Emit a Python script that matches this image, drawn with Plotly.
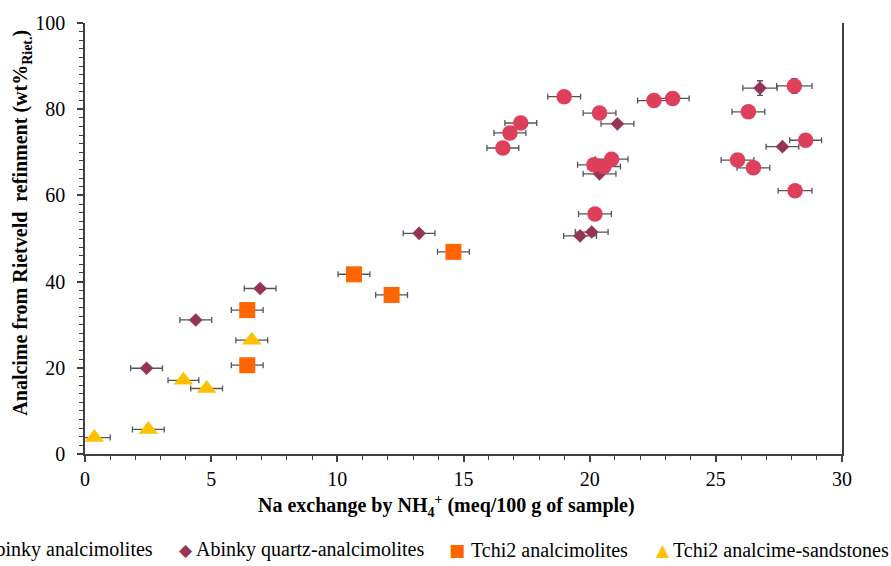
import plotly.graph_objects as go

# ---- data ----
circ_x = [16.56, 16.84, 17.27, 18.99, 20.39, 22.55, 23.29, 26.29, 28.11, 28.56, 25.86, 26.49, 28.14, 20.87, 20.17, 20.57, 20.21]
circ_y = [71.0, 74.5, 76.8, 82.9, 79.1, 82.0, 82.5, 79.4, 85.4, 72.8, 68.2, 66.4, 61.1, 68.4, 67.1, 66.7, 55.7]
circ_ex = [0.63, 0.63, 0.63, 0.65, 0.65, 0.65, 0.65, 0.65, 0.7, 0.63, 0.65, 0.65, 0.67, 0.65, 0.65, 0.65, 0.65]
circ_ey = [0, 0, 0, 0, 0, 0, 0, 0, 1.7, 0, 0, 0, 0, 0, 0, 0, 0]

dia_x = [2.44, 4.39, 6.94, 13.24, 19.62, 20.08, 20.39, 21.1, 26.75, 27.64]
dia_y = [19.9, 31.1, 38.4, 51.2, 50.6, 51.5, 65.0, 76.6, 84.9, 71.3]
dia_ex = [0.63, 0.63, 0.63, 0.63, 0.65, 0.65, 0.65, 0.65, 0.68, 0.65]
dia_ey = [0, 0, 0, 0, 0, 0, 0, 0, 1.7, 0]

sq_x = [6.43, 6.43, 10.66, 12.15, 14.6]
sq_y = [20.6, 33.4, 41.7, 36.9, 46.9]
sq_ex = [0.63, 0.63, 0.63, 0.63, 0.63]

tri_x = [0.37, 2.51, 3.9, 4.82, 6.61]
tri_y = [3.8, 5.7, 17.1, 15.2, 26.4]
tri_ex = [0.63, 0.63, 0.61, 0.63, 0.63]

series_names = ["Abinky analcimolites", "Abinky quartz-analcimolites",
                "Tchi2 analcimolites", "Tchi2 analcime-sandstones"]
colors = ["#DE3F5B", "#953553", "#FF6600", "#FFC000"]

x_title = "<b>Na exchange by NH<sub>4</sub><sup>+</sup> (meq/100 g of sample)</b>"
y_title = "<b>Analcime from Rietveld \u00a0refinment (wt%<sub>Riet.</sub>)</b>"

FONT = "Liberation Serif, Times New Roman, Times, serif"
ERRC = "#555555"

fig = go.Figure()

def err(arr):
    return dict(type="data", array=arr, color=ERRC, thickness=1.3, width=3, visible=True)

fig.add_trace(go.Scatter(x=dia_x, y=dia_y, mode="markers", name=series_names[1],
                         marker=dict(symbol="diamond", size=10.5, color=colors[1]),
                         error_x=err(dia_ex), error_y=err(dia_ey), showlegend=False))
fig.add_trace(go.Scatter(x=circ_x, y=circ_y, mode="markers", name=series_names[0],
                         marker=dict(symbol="circle", size=15.5, color=colors[0]),
                         error_x=err(circ_ex), error_y=err(circ_ey), showlegend=False))
fig.add_trace(go.Scatter(x=sq_x, y=sq_y, mode="markers", name=series_names[2],
                         marker=dict(symbol="square", size=16, color=colors[2]),
                         error_x=err(sq_ex), showlegend=False))
fig.add_trace(go.Scatter(x=tri_x, y=tri_y, mode="markers", name=series_names[3],
                         marker=dict(symbol="triangle-up", size=17, color=colors[3]),
                         error_x=err(tri_ex), showlegend=False))

L, R, T, B = 85, 49, 18, 112
W, H = 891, 566
PW, PH = W - L - R, H - T - B

def px(xp):
    return (xp - L) / PW

def py(yp):
    return (H - B - yp) / PH

annotations = []
# axis titles
annotations.append(dict(text=x_title, x=px(446), y=py(490), xref="paper", yref="paper",
                        showarrow=False, xanchor="center", yanchor="top",
                        font=dict(family=FONT, size=20, color="#000000")))
annotations.append(dict(text=y_title, x=px(22), y=py(220), xref="paper", yref="paper",
                        showarrow=False, xanchor="center", yanchor="middle", textangle=-90,
                        font=dict(family=FONT, size=20, color="#000000")))

# legend (manual, partially off-canvas like the reference)
leg_y = py(551)
sym = ["\u25CF", "\u25C6", "\u25A0", "\u25B2"]
sym_x = [-30, 186, 457, 663]
sym_sz = [18, 17, 17, 17]
for i in range(4):
    annotations.append(dict(text=sym[i], x=px(sym_x[i]), y=leg_y, xref="paper", yref="paper",
                            showarrow=False, xanchor="center", yanchor="middle",
                            font=dict(family="DejaVu Sans", size=sym_sz[i], color=colors[i])))
annotations.append(dict(text=series_names[0], x=px(155), y=leg_y, xref="paper", yref="paper",
                        showarrow=False, xanchor="right", yanchor="middle",
                        font=dict(family=FONT, size=20, color="#000000")))
text_x = [None, 194, 469, 671]
for i in range(1, 4):
    annotations.append(dict(text=series_names[i], x=px(text_x[i]), y=leg_y, xref="paper", yref="paper",
                            showarrow=False, xanchor="left", yanchor="middle",
                            font=dict(family=FONT, size=20, color="#000000")))

axis_common = dict(showgrid=False, zeroline=False, showline=True, linecolor="#404040", linewidth=1.5,
                   ticks="outside", tickcolor="#404040", tickwidth=1.5, ticklen=6,
                   tickfont=dict(family=FONT, size=20, color="#000000"))

fig.update_layout(
    width=W, height=H,
    margin=dict(l=L, r=R, t=T, b=B, pad=0),
    paper_bgcolor="white", plot_bgcolor="white",
    showlegend=False,
    annotations=annotations,
    xaxis=dict(range=[0, 30], dtick=5, tick0=0,
               minor=dict(dtick=1, ticks="outside", ticklen=4, tickcolor="#404040", tickwidth=1.2),
               ticklabelstandoff=0, **axis_common),
    yaxis=dict(range=[0, 100], dtick=20, tick0=0, mirror=True,
               minor=dict(dtick=2, ticks="outside", ticklen=4, tickcolor="#404040", tickwidth=1.2),
               ticklabelstandoff=8, **axis_common),
)

fig.write_html("out.html")
